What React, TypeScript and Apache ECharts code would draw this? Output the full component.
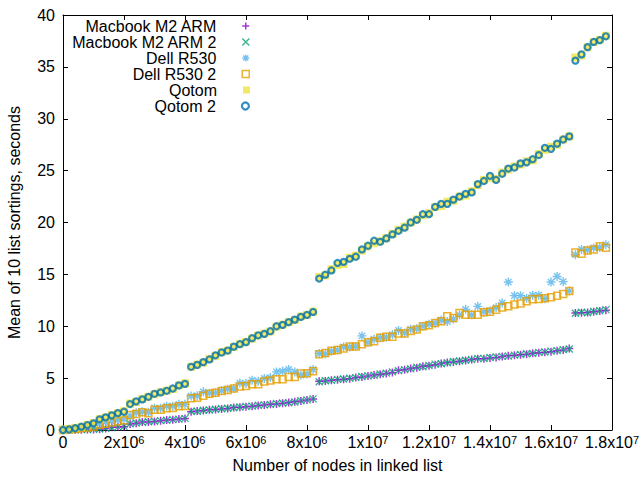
import React, { useEffect, useRef } from 'react';
import * as echarts from 'echarts';

const FONT = '"Liberation Sans", Arial, Helvetica, sans-serif';

// Number of nodes in the linked list, in millions
const nodesMillions = [
  0, 0.2, 0.4, 0.6, 0.8, 1, 1.2, 1.4, 1.6, 1.8,
  2, 2.2, 2.4, 2.6, 2.8, 3, 3.2, 3.4, 3.6, 3.8,
  4, 4.2, 4.4, 4.6, 4.8, 5, 5.2, 5.4, 5.6, 5.8,
  6, 6.2, 6.4, 6.6, 6.8, 7, 7.2, 7.4, 7.6, 7.8,
  8, 8.2, 8.4, 8.6, 8.8, 9, 9.2, 9.4, 9.6, 9.8,
  10, 10.2, 10.4, 10.6, 10.8, 11, 11.2, 11.4, 11.6, 11.8,
  12, 12.2, 12.4, 12.6, 12.8, 13, 13.2, 13.4, 13.6, 13.8,
  14, 14.2, 14.4, 14.6, 14.8, 15, 15.2, 15.4, 15.6, 15.8,
  16, 16.2, 16.4, 16.6, 16.8, 17, 17.2, 17.4, 17.6, 17.8,
];

const macbook = [
  0.0, 0.01, 0.02, 0.03, 0.05, 0.06,
  0.07, 0.15, 0.26, 0.28, 0.32,
  0.58, 0.65, 0.77, 0.78, 0.83, 0.88, 0.96, 0.98, 1.06, 1.1,
  1.76, 1.82, 1.88, 1.95, 1.98, 2.02, 2.08, 2.18, 2.2, 2.25, 2.3, 2.35, 2.4, 2.47, 2.5, 2.58, 2.65, 2.72, 2.8, 2.88, 2.98,
  4.71, 4.72, 4.8, 4.85, 4.9, 4.95, 5.07, 5.1, 5.2, 5.3, 5.38, 5.45, 5.55, 5.77, 5.8, 5.93, 6.0, 6.15, 6.2, 6.3,
  6.4, 6.5, 6.55, 6.63, 6.7, 6.8, 6.86, 6.86, 6.95, 7.0, 7.08, 7.15, 7.2, 7.25, 7.3, 7.4, 7.45, 7.5, 7.55, 7.63, 7.72, 7.85,
  11.28, 11.3, 11.32, 11.4, 11.48, 11.54,
];

const macbook2 = [
  0.0, 0.02, 0.03, 0.04, 0.05, 0.07,
  0.1, 0.16, 0.22, 0.3, 0.35,
  0.6, 0.68, 0.74, 0.8, 0.85, 0.9, 0.94, 1.0, 1.05, 1.12,
  1.8, 1.8, 1.9, 1.92, 2.0, 2.05, 2.1, 2.15, 2.22, 2.28, 2.3, 2.38, 2.42, 2.45, 2.55, 2.6, 2.62, 2.7, 2.82, 2.9, 3.0,
  4.65, 4.75, 4.78, 4.88, 4.92, 5.0, 5.05, 5.15, 5.22, 5.28, 5.4, 5.48, 5.6, 5.72, 5.82, 5.9, 6.05, 6.1, 6.22, 6.35,
  6.38, 6.48, 6.6, 6.65, 6.72, 6.78, 6.9, 6.88, 6.98, 7.05, 7.1, 7.12, 7.22, 7.28, 7.35, 7.38, 7.48, 7.52, 7.6, 7.65, 7.75, 7.8,
  11.25, 11.35, 11.3, 11.42, 11.5, 11.6,
];

const dell = [
  0.02, 0.08, 0.15, 0.22, 0.3, 0.38,
  0.6, 0.75, 0.85, 0.95, 1.05,
  1.35, 1.67, 1.75, 1.7, 2.1, 2.1, 2.3, 2.3, 2.47, 2.47,
  3.27, 3.3, 3.68, 3.55, 3.6, 3.8, 3.93, 4.0, 4.52, 4.48, 4.8, 4.7, 4.97, 5.05, 5.6, 5.68, 5.83, 5.6, 5.3, 5.4, 5.83,
  7.37, 7.35, 7.6, 7.7, 8.0, 8.0, 8.05, 9.07, 8.45, 8.75, 8.9, 8.95, 9.2, 9.6, 9.35, 9.7, 9.75, 10.0, 10.2, 10.3,
  10.58, 10.45, 10.7, 11.1, 11.63, 11.1, 11.92, 11.38, 11.5, 11.8, 12.24, 14.26, 12.95, 12.95, 12.7, 13.0, 13.0, 12.66, 14.26, 14.8, 14.3, 13.4,
  16.9, 17.4, 17.35, 17.55, 17.6, 17.86,
];

const dell2 = [
  0.0, 0.05, 0.1, 0.17, 0.25, 0.32,
  0.5, 0.6, 0.72, 0.85, 0.95,
  1.45, 1.55, 1.7, 1.62, 1.95, 1.95, 2.1, 2.12, 2.3, 2.32,
  3.05, 3.1, 3.3, 3.5, 3.6, 3.75, 3.85, 4.0, 4.2, 4.25, 4.42, 4.42, 4.68, 4.78, 4.9, 4.9, 5.1, 5.1, 5.45, 5.48, 5.67,
  7.3, 7.43, 7.63, 7.7, 7.85, 8.04, 8.04, 8.27, 8.46, 8.56, 8.9, 9.0, 9.0, 9.3, 9.3, 9.55, 9.68, 10.0, 10.1, 10.32,
  10.48, 10.96, 10.8, 11.28, 11.1, 11.1, 11.1, 11.35, 11.4, 11.6, 11.8, 11.92, 12.1, 12.2, 12.4, 12.6, 12.63, 12.7, 12.8, 12.95, 13.1, 13.4,
  17.1, 17.0, 17.3, 17.4, 17.7, 17.57,
];

const qotom = [
  0.02, 0.08, 0.2, 0.3, 0.5, 0.66,
  1.05, 1.2, 1.45, 1.6, 1.8,
  2.55, 2.7, 3.0, 3.2, 3.45, 3.65, 3.8, 3.95, 4.3, 4.5,
  6.1, 6.3, 6.5, 6.85, 7.15, 7.5, 7.65, 8.0, 8.3, 8.5, 8.8, 9.1, 9.3, 9.5, 9.95, 10.15, 10.4, 10.6, 10.95, 11.1, 11.4,
  14.75, 14.9, 15.5, 15.9, 16.0, 16.6, 16.8, 17.3, 17.7, 18.0, 18.2, 18.5, 18.9, 19.3, 19.6, 20.0, 20.3, 20.7, 20.9, 21.5,
  21.6, 22.0, 22.1, 22.5, 22.6, 23.0, 23.6, 24.1, 24.3, 24.2, 24.8, 25.1, 25.4, 25.6, 25.9, 26.0, 26.6, 27.0, 27.3, 27.5, 28.0, 28.3,
  35.9, 36.1, 36.9, 37.4, 37.6, 38.0,
];

const qotom2 = [
  0.0, 0.05, 0.17, 0.32, 0.48, 0.64,
  1.03, 1.22, 1.41, 1.63, 1.76,
  2.5, 2.76, 2.95, 3.2, 3.49, 3.62, 3.78, 4.0, 4.3, 4.45,
  6.09, 6.28, 6.54, 6.8, 7.2, 7.47, 7.66, 8.04, 8.27, 8.46, 8.85, 9.13, 9.26, 9.52, 10.0, 10.13, 10.4, 10.64, 10.9, 11.09, 11.38,
  14.6, 14.97, 15.38, 16.1, 16.2, 16.5, 16.7, 17.4, 17.76, 18.24, 18.14, 18.46, 18.85, 19.2, 19.5, 20.0, 20.26, 20.8, 20.8, 21.5,
  21.8, 21.8, 22.2, 22.5, 22.76, 22.9, 23.7, 24.0, 24.5, 24.1, 24.7, 25.2, 25.3, 25.7, 25.8, 26.1, 26.5, 27.2, 27.1, 27.6, 28.0, 28.3,
  35.6, 36.2, 36.9, 37.4, 37.57, 37.95,
];

const seriesNames = ['Macbook M2 ARM', 'Macbook M2 ARM 2', 'Dell R530', 'Dell R530 2', 'Qotom', 'Qotom 2'];
const seriesValues = [macbook, macbook2, dell, dell2, qotom, qotom2];

const PLUS = 'path://M5,0L5,10M0,5L10,5';
const CROSS = 'path://M0,0L10,10M0,10L10,0';
const STAR = 'path://M5,0L5,10M0,5L10,5M1.5,1.5L8.5,8.5M1.5,8.5L8.5,1.5';

const styles = [
  { symbol: PLUS, size: 8, itemStyle: { color: 'rgba(0,0,0,0)', borderColor: '#9400D3', borderWidth: 1.5 } },
  { symbol: CROSS, size: 7, itemStyle: { color: 'rgba(0,0,0,0)', borderColor: '#009E73', borderWidth: 1.3 } },
  { symbol: STAR, size: 9, itemStyle: { color: 'rgba(0,0,0,0)', borderColor: '#56B4E9', borderWidth: 1.4 } },
  { symbol: 'rect', size: 7, itemStyle: { color: 'rgba(0,0,0,0)', borderColor: '#E69F00', borderWidth: 1.5 } },
  { symbol: 'rect', size: 8, itemStyle: { color: '#F0E442', borderWidth: 0 } },
  { symbol: 'circle', size: 6, itemStyle: { color: 'rgba(0,0,0,0)', borderColor: '#0072B2', borderWidth: 2.2 } },
];

function xLabel(v: number) {
  if (v === 0) return '0';
  const e = Math.floor(Math.log10(v) + 1e-9);
  const m = +(v / Math.pow(10, e)).toFixed(1);
  return `{m|${m}x10}{s|${e}}`;
}

const axisLineStyle = { show: true, onZero: false, lineStyle: { color: '#000', width: 1 } };
const tickStyle = { show: true, inside: true, length: 5, lineStyle: { color: '#000', width: 1 } };

function buildOption() {
  const series = seriesNames.map((name, i) => ({
    name,
    type: 'scatter',
    xAxisIndex: 0,
    yAxisIndex: 0,
    symbol: styles[i].symbol,
    symbolSize: styles[i].size,
    itemStyle: styles[i].itemStyle,
    emphasis: { disabled: true },
    data: nodesMillions.map((m, j) => [m * 1e6, seriesValues[i][j]]),
  }));

  const legend = seriesNames.map((name, i) => ({
    show: true,
    data: [name],
    orient: 'vertical',
    align: 'right',
    right: 390,
    top: 18 + 16 * i,
    padding: 0,
    itemWidth: 7,
    itemHeight: 7,
    selectedMode: false,
    itemStyle: { borderWidth: styles[i].itemStyle.borderWidth },
    textStyle: { fontSize: 16, lineHeight: 15, color: '#000', fontFamily: FONT, padding: [0, 21, 0, 0] },
  }));

  return {
    animation: false,
    backgroundColor: '#fff',
    textStyle: { fontFamily: FONT },
    grid: { left: 63, right: 28, top: 15, bottom: 50, containLabel: false, outerBoundsMode: 'none' },
    legend,
    xAxis: [
      {
        type: 'value',
        position: 'bottom',
        min: 0,
        max: 18e6,
        interval: 2e6,
        axisLine: axisLineStyle,
        axisTick: tickStyle,
        splitLine: { show: false },
        axisLabel: {
          color: '#000',
          fontSize: 16,
          fontFamily: FONT,
          margin: 4,
          formatter: xLabel,
          rich: {
            m: { fontSize: 16, color: '#000', fontFamily: FONT },
            s: { fontSize: 11, color: '#000', fontFamily: FONT, verticalAlign: 'top' },
          },
        },
        name: 'Number of nodes in linked list',
        nameLocation: 'middle',
        nameGap: 27,
        nameMoveOverlap: false,
        nameTextStyle: { fontSize: 16, color: '#000', fontFamily: FONT },
      },
      {
        type: 'value',
        position: 'top',
        min: 0,
        max: 18e6,
        interval: 2e6,
        axisLine: axisLineStyle,
        axisTick: tickStyle,
        axisLabel: { show: false },
        splitLine: { show: false },
      },
    ],
    yAxis: [
      {
        type: 'value',
        position: 'left',
        min: 0,
        max: 40,
        interval: 5,
        axisLine: axisLineStyle,
        axisTick: tickStyle,
        splitLine: { show: false },
        axisLabel: { color: '#000', fontSize: 16, fontFamily: FONT, margin: 8 },
        name: 'Mean of 10 list sortings, seconds',
        nameLocation: 'middle',
        nameGap: 41,
        nameMoveOverlap: false,
        nameTextStyle: { fontSize: 16, color: '#000', fontFamily: FONT },
      },
      {
        type: 'value',
        position: 'right',
        min: 0,
        max: 40,
        interval: 5,
        axisLine: axisLineStyle,
        axisTick: tickStyle,
        axisLabel: { show: false },
        splitLine: { show: false },
      },
    ],
    series,
  };
}

export default function App() {
  const ref = useRef<HTMLDivElement>(null);
  useEffect(() => {
    const chart = echarts.init(ref.current as HTMLDivElement, null, { renderer: 'svg' });
    chart.setOption(buildOption() as any);
    return () => chart.dispose();
  }, []);
  return (
    <div
      ref={ref}
      style={{ position: 'fixed', left: 0, top: 0, width: 640, height: 480, background: '#fff' }}
    />
  );
}
